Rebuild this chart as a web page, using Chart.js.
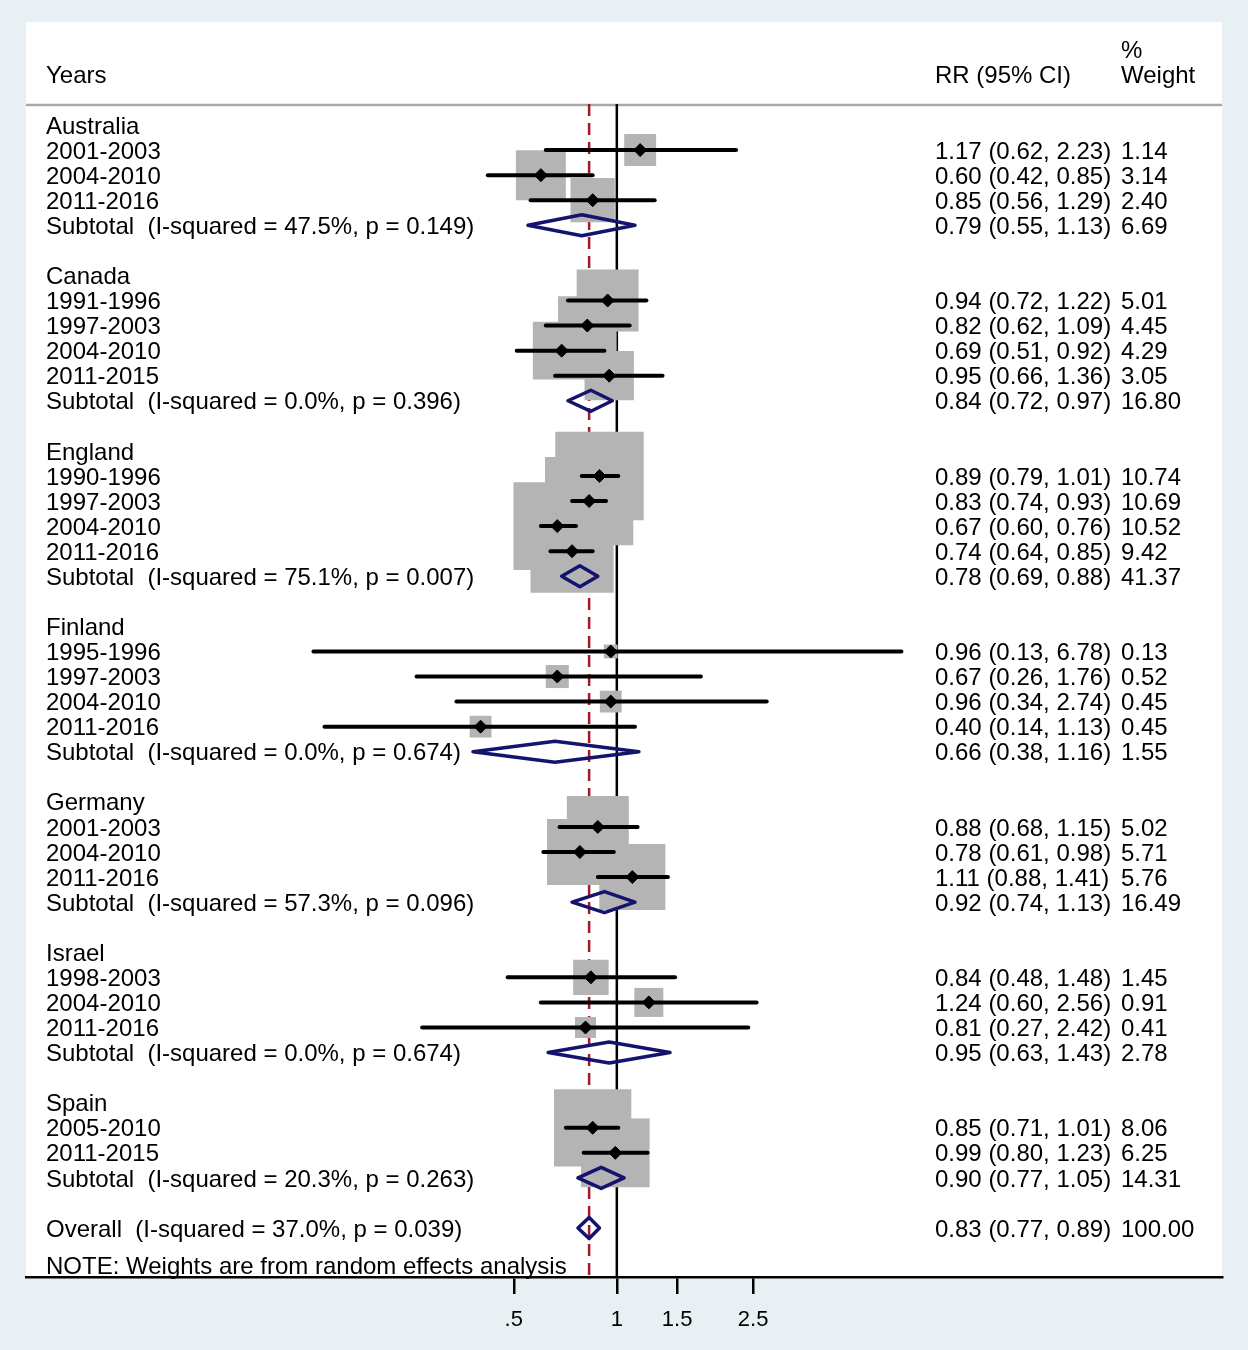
<!DOCTYPE html>
<html><head><meta charset="utf-8">
<script src="https://cdn.jsdelivr.net/npm/chart.js@4.4.1/dist/chart.umd.min.js"></script>
<style>html,body{margin:0;padding:0;background:#e8f0f3;}#wrap{width:1248px;height:1350px;}</style>
</head><body><div id="wrap"><canvas id="c" width="1248" height="1350"></canvas></div>
<script>
// ---------------- data ----------------
const groups = ['Australia','Canada','England','Finland','Germany','Israel','Spain'];
const studyGroup = [0,0,0, 1,1,1,1, 2,2,2,2, 3,3,3,3, 4,4,4, 5,5,5, 6,6];
const studyYears = ['2001-2003','2004-2010','2011-2016',
  '1991-1996','1997-2003','2004-2010','2011-2015',
  '1990-1996','1997-2003','2004-2010','2011-2016',
  '1995-1996','1997-2003','2004-2010','2011-2016',
  '2001-2003','2004-2010','2011-2016',
  '1998-2003','2004-2010','2011-2016',
  '2005-2010','2011-2015'];
const studyRR = [1.17,0.60,0.85, 0.94,0.82,0.69,0.95, 0.89,0.83,0.67,0.74, 0.96,0.67,0.96,0.40, 0.88,0.78,1.11, 0.84,1.24,0.81, 0.85,0.99];
const studyLo = [0.62,0.42,0.56, 0.72,0.62,0.51,0.66, 0.79,0.74,0.60,0.64, 0.13,0.26,0.34,0.14, 0.68,0.61,0.88, 0.48,0.60,0.27, 0.71,0.80];
const studyHi = [2.23,0.85,1.29, 1.22,1.09,0.92,1.36, 1.01,0.93,0.76,0.85, 6.78,1.76,2.74,1.13, 1.15,0.98,1.41, 1.48,2.56,2.42, 1.01,1.23];
const studyWeight = [1.14,3.14,2.40, 5.01,4.45,4.29,3.05, 10.74,10.69,10.52,9.42, 0.13,0.52,0.45,0.45, 5.02,5.71,5.76, 1.45,0.91,0.41, 8.06,6.25];
const subRR = [0.79,0.84,0.78,0.66,0.92,0.95,0.90];
const subLo = [0.55,0.72,0.69,0.38,0.74,0.63,0.77];
const subHi = [1.13,0.97,0.88,1.16,1.13,1.43,1.05];
const subWeight = [6.69,16.80,41.37,1.55,16.49,2.78,14.31];
const subI2 = [47.5,0.0,75.1,0.0,57.3,0.0,20.3];
const subP = [0.149,0.396,0.007,0.674,0.096,0.674,0.263];
const overallRR = 0.83, overallLo = 0.77, overallHi = 0.89, overallWeight = 100;
const overallI2 = 37.0, overallP = 0.039;
const xTickValues = [0.5, 1, 1.5, 2.5];
const xTickLabels = ['.5', '1', '1.5', '2.5'];
const headerLeft = 'Years', headerRR = 'RR (95% CI)', headerPct = '%', headerWeight = 'Weight';
const noteText = 'NOTE: Weights are from random effects analysis';

// ---------------- layout / style ----------------
const FONT = '"Liberation Sans", Arial, Helvetica, sans-serif';
const xMin = 0.01881, xMax = 58.55;
const yMin = -0.838, yMax = 45.953;
const NAVY = '#14146e', BOXGREY = '#b4b4b4', DASHRED = '#a3182b';
const boxSide = w => 4.6 + 25.6 * Math.sqrt(w);
const fmtCI = (e,l,h) => e.toFixed(2) + ' (' + l.toFixed(2) + ', ' + h.toFixed(2) + ')';
const DH = 0.42;
const diamondPts = (e,l,h,r) => [{x:l,y:r},{x:e,y:r-DH},{x:h,y:r},{x:e,y:r+DH},{x:l,y:r},{x:e,y:r-DH}];

const rowsText = [];
const boxPts = [], boxRadii = [], ciSets = [], diamondSets = [];
let r = 0;
groups.forEach((g, gi) => {
  rowsText.push({r, left: g});
  r++;
  studyGroup.forEach((sg, i) => {
    if (sg !== gi) return;
    rowsText.push({r, left: studyYears[i], rr: fmtCI(studyRR[i], studyLo[i], studyHi[i]), wt: studyWeight[i].toFixed(2)});
    boxPts.push({x: studyRR[i], y: r});
    boxRadii.push(boxSide(studyWeight[i]) / Math.SQRT2);
    ciSets.push([{x: studyLo[i], y: r}, {x: studyHi[i], y: r}]);
    r++;
  });
  rowsText.push({r, left: 'Subtotal  (I-squared = ' + subI2[gi].toFixed(1) + '%, p = ' + subP[gi].toFixed(3) + ')',
    rr: fmtCI(subRR[gi], subLo[gi], subHi[gi]), wt: subWeight[gi].toFixed(2)});
  diamondSets.push(diamondPts(subRR[gi], subLo[gi], subHi[gi], r));
  r += 2;
});
rowsText.push({r, left: 'Overall  (I-squared = ' + overallI2.toFixed(1) + '%, p = ' + overallP.toFixed(3) + ')',
  rr: fmtCI(overallRR, overallLo, overallHi), wt: overallWeight.toFixed(2)});
diamondSets.push(diamondPts(overallRR, overallLo, overallHi, r));
const noteRow = r + 1.5;

// ---------------- datasets ----------------
const datasets = [];
diamondSets.forEach(d => datasets.push({type:'line', data:d, borderColor:NAVY, borderWidth:3.5, pointRadius:0, fill:false, tension:0, borderJoinStyle:'round', order:1}));
datasets.push({type:'scatter', data:boxPts.map(p=>({x:p.x,y:p.y})), pointStyle:'rectRot', pointRadius:6.5, pointBackgroundColor:'#000', pointBorderColor:'#000', pointBorderWidth:1, order:2});
ciSets.forEach(d => datasets.push({type:'line', data:d, borderColor:'#000', borderWidth:4, pointRadius:0, borderCapStyle:'round', fill:false, order:3}));
datasets.push({type:'scatter', data:boxPts, pointStyle:'rect', pointRadius:boxRadii, pointBackgroundColor:BOXGREY, pointBorderColor:BOXGREY, pointBorderWidth:0, order:4});
datasets.push({type:'line', data:[{x:overallRR,y:yMin},{x:overallRR,y:yMax}], borderColor:DASHRED, borderWidth:2.5, borderDash:[12,7], pointRadius:0, fill:false, order:5});
datasets.push({type:'line', data:[{x:1,y:yMin},{x:1,y:yMax}], borderColor:'#000', borderWidth:2.5, pointRadius:0, fill:false, order:6});

// ---------------- plugins ----------------
const bgPlugin = {
  id:'bg',
  beforeDraw(chart){
    const {ctx, chartArea:a} = chart;
    ctx.save();
    ctx.fillStyle = '#e8f0f3';
    ctx.fillRect(0,0,chart.width,chart.height);
    ctx.fillStyle = '#ffffff';
    ctx.fillRect(a.left, 22, a.right - a.left, a.bottom - 22);
    ctx.strokeStyle = '#a8a8a8';
    ctx.lineWidth = 2.5;
    ctx.beginPath(); ctx.moveTo(a.left, a.top + 1); ctx.lineTo(a.right, a.top + 1); ctx.stroke();
    ctx.restore();
  }
};
const textPlugin = {
  id:'txt',
  afterDraw(chart){
    const {ctx} = chart; const ys = chart.scales.y;
    ctx.save();
    ctx.fillStyle = '#000';
    ctx.font = '24px ' + FONT;
    ctx.textAlign = 'left';
    ctx.textBaseline = 'alphabetic';
    const off = 8.6;
    const Y = v => ys.getPixelForValue(v) + off;
    ctx.fillText(headerLeft, 46, Y(-2));
    ctx.fillText(headerRR, 935, Y(-2));
    ctx.fillText(headerPct, 1121, Y(-3));
    ctx.fillText(headerWeight, 1121, Y(-2));
    rowsText.forEach(t => {
      ctx.fillText(t.left, 46, Y(t.r));
      if (t.rr) ctx.fillText(t.rr, 935, Y(t.r));
      if (t.wt) ctx.fillText(t.wt, 1121, Y(t.r));
    });
    ctx.fillText(noteText, 46, Y(noteRow));
    ctx.restore();
  }
};

new Chart(document.getElementById('c'), {
  type:'scatter',
  data:{datasets},
  options:{
    responsive:false, devicePixelRatio:1, animation:false,
    layout:{autoPadding:false, padding:{left:26, right:26, top:104, bottom:0}},
    plugins:{legend:{display:false}, tooltip:{enabled:false}},
    scales:{
      x:{type:'logarithmic', position:'bottom', min:xMin, max:xMax, bounds:'data',
        afterBuildTicks: ax => { ax.ticks = xTickValues.map(v => ({value:v})); },
        afterFit: ax => { ax.height = 73; ax.paddingLeft = 0; ax.paddingRight = 0; },
        ticks:{autoSkip:false, maxRotation:0, minRotation:0, color:'#000', padding:13,
          font:{family:FONT, size:22},
          callback: v => { const i = xTickValues.indexOf(v); return i >= 0 ? xTickLabels[i] : ''; }},
        grid:{display:true, drawOnChartArea:false, drawTicks:true, tickLength:17, color:'#000', lineWidth:2.5},
        border:{display:true, color:'#000', width:2.5}
      },
      y:{type:'linear', display:false, reverse:true, min:yMin, max:yMax}
    }
  },
  plugins:[bgPlugin, textPlugin]
});
</script></body></html>
